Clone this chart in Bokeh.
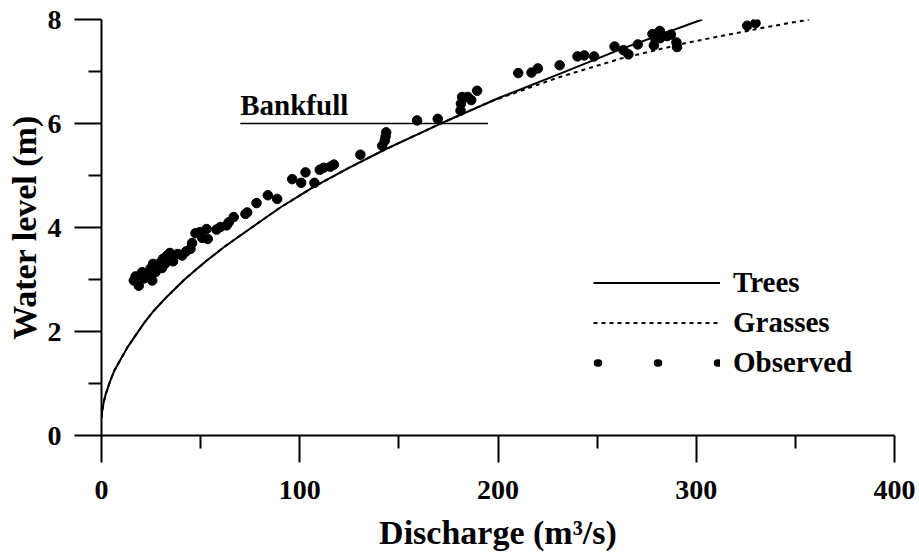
from bokeh.plotting import figure
from bokeh.models import Range1d, FixedTicker, Legend, LegendItem, Label
from bokeh.embed import file_html
from bokeh.resources import INLINE

# ---------------- data ----------------
x_ticks = [0, 100, 200, 300, 400]
x_minor = [50, 150, 250, 350]
y_ticks = [0, 2, 4, 6, 8]
y_minor = [1, 3, 5, 7]

trees_q = [0, 0.3, 1, 2, 4.4, 6.5, 9.6, 13, 17.8, 22, 26.4, 33, 41.6, 47, 53.3, 62, 72,
           90, 107, 125, 143, 170, 201, 232, 262, 303]
trees_h = [0.35, 0.46, 0.62, 0.78, 1.05, 1.25, 1.46, 1.69, 1.96, 2.19, 2.40, 2.67, 2.99,
           3.17, 3.37, 3.63, 3.90, 4.38, 4.78, 5.15, 5.50, 5.98, 6.50, 6.97, 7.43, 8.0]

grass_q = [0, 0.3, 1, 2, 4.4, 6.5, 9.6, 13, 17.8, 22, 26.4, 33, 41.6, 47, 53.3, 62, 72,
           90, 107, 125, 143, 170, 196, 230, 262, 295, 335, 357]
grass_h = [0.35, 0.46, 0.62, 0.78, 1.05, 1.25, 1.46, 1.69, 1.96, 2.19, 2.40, 2.67, 2.99,
           3.17, 3.37, 3.63, 3.90, 4.38, 4.78, 5.15, 5.50, 5.98, 6.42, 6.88, 7.25, 7.55,
           7.85, 8.0]

obs_q = [16.3, 17.2, 18.8, 20.5, 21.5, 23.0, 24.7, 25.6, 26.0, 27.2, 28.1, 29.8, 30.5,
         31.1, 32.0, 33.1, 34.5, 36.1, 38.5, 40.7, 42.7, 44.9, 45.7, 47.4, 49.6, 50.8,
         53.0, 53.6, 58.0, 60.0, 63.1, 64.2, 66.7, 72.6, 73.5, 78.2, 83.9, 88.6, 96.2,
         100.7, 102.9, 107.4, 110.1, 112.1, 115.5, 117.2, 130.6, 141.6, 142.9, 143.3,
         143.6, 159.2, 169.6, 181.1, 181.3, 181.9, 184.8, 186.5, 189.5, 210.2, 216.9,
         220.1, 231.1, 240.1, 243.5, 248.5, 258.8, 263.3, 265.8, 270.5, 277.9, 278.6,
         279.4, 281.6, 281.8, 285.3, 287.2, 290.0, 290.3, 325.7, 329.9]
obs_h = [2.98, 3.06, 2.88, 3.14, 3.02, 3.08, 3.21, 2.98, 3.30, 3.14, 3.27, 3.33, 3.22,
         3.40, 3.30, 3.46, 3.51, 3.35, 3.49, 3.46, 3.54, 3.59, 3.70, 3.89, 3.91, 3.80,
         3.97, 3.78, 3.96, 4.01, 4.04, 4.10, 4.20, 4.26, 4.29, 4.47, 4.62, 4.55, 4.93,
         4.86, 5.06, 4.86, 5.11, 5.15, 5.17, 5.21, 5.40, 5.57, 5.67, 5.75,
         5.83, 6.06, 6.09, 6.25, 6.38, 6.51, 6.51, 6.45, 6.63, 6.97, 6.98,
         7.06, 7.12, 7.29, 7.31, 7.29, 7.48, 7.41, 7.33, 7.52, 7.72, 7.50,
         7.62, 7.78, 7.64, 7.68, 7.71, 7.56, 7.47, 7.88, 7.93]

bankfull_q = [70, 195]
bankfull_h = [6, 6]
bankfull_label = "Bankfull"

x_title = "Discharge (m\u00b3/s)"
y_title = "Water level (m)"
series_names = ["Trees", "Grasses", "Observed"]

# ---------------- figure ----------------
FONT = "Liberation Serif"
BLACK = "#000000"

p = figure(width=919, height=554, output_backend="svg", toolbar_location=None,
           x_range=Range1d(0, 400), y_range=Range1d(0, 8),
           min_border_left=101, min_border_right=25, min_border_top=19,
           min_border_bottom=119)
p.outline_line_color = None
p.xgrid.visible = False
p.ygrid.visible = False
p.background_fill_color = "white"
p.border_fill_color = "white"

p.xaxis.ticker = FixedTicker(ticks=x_ticks, minor_ticks=x_minor)
p.yaxis.ticker = FixedTicker(ticks=y_ticks, minor_ticks=y_minor)
p.xaxis.axis_label = x_title
p.yaxis.axis_label = y_title

for ax in (p.xaxis[0], p.yaxis[0]):
    ax.axis_line_width = 2
    ax.axis_line_color = BLACK
    ax.major_tick_line_width = 2
    ax.minor_tick_line_width = 2
    ax.major_tick_line_color = BLACK
    ax.minor_tick_line_color = BLACK
    ax.major_tick_line_alpha = 1.0
    ax.minor_tick_line_alpha = 1.0
    ax.major_tick_out = 27
    ax.major_tick_in = 0
    ax.minor_tick_out = 13
    ax.minor_tick_in = 0
    ax.major_label_text_font = FONT
    ax.major_label_text_font_style = "bold"
    ax.major_label_text_font_size = "28px"
    ax.major_label_text_color = BLACK
    ax.axis_label_text_font = FONT
    ax.axis_label_text_font_style = "bold"
    ax.axis_label_text_font_size = "34px"
    ax.axis_label_text_color = BLACK

p.xaxis.major_label_standoff = 18
p.xaxis.axis_label_standoff = 12
p.yaxis.major_label_standoff = 13
p.yaxis.axis_label_standoff = 2

# ---------------- glyphs ----------------
r_grass = p.line(grass_q, grass_h, line_color=BLACK, line_width=2, line_dash="4 4")
r_trees = p.line(trees_q, trees_h, line_color=BLACK, line_width=2)
p.line(bankfull_q, bankfull_h, line_color=BLACK, line_width=1.6)
r_obs = p.scatter(obs_q, obs_h, size=9.5, fill_color=BLACK, line_color=BLACK)
# legend key for the observed series: three dots along the key length
# (a one-point line draws nothing in the plot, only its legend key)
r_obs_key = p.line(x=obs_q[:1], y=obs_h[:1], line_color=BLACK, line_width=7.5,
                   line_dash="1 59", line_dash_offset=56, line_cap="round")

p.add_layout(Label(x=bankfull_q[0], y=bankfull_h[0], y_offset=19, text=bankfull_label,
                   text_font=FONT, text_font_style="bold", text_font_size="29px",
                   text_color=BLACK, text_baseline="alphabetic", text_align="left"))

legend = Legend(items=[LegendItem(label=series_names[0], renderers=[r_trees]),
                       LegendItem(label=series_names[1], renderers=[r_grass]),
                       LegendItem(label=series_names[2], renderers=[r_obs_key])],
                location=(492, 56), orientation="vertical",
                glyph_width=127, glyph_height=31, label_height=31, spacing=7,
                label_standoff=13, padding=0, margin=0,
                border_line_color=None, background_fill_alpha=0,
                label_text_font=FONT, label_text_font_style="bold",
                label_text_font_size="29px", label_text_color=BLACK)
p.add_layout(legend)

open("out.html", "w").write(file_html(p, INLINE))
